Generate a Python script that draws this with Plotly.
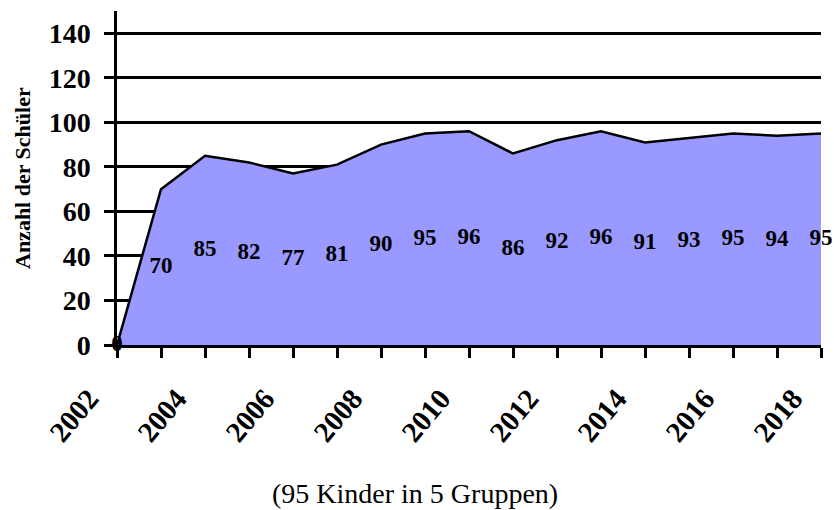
import plotly.graph_objects as go

years = list(range(2002, 2019))
pupils = [0, 70, 85, 82, 77, 81, 90, 95, 96, 86, 92, 96, 91, 93, 95, 94, 95]
label_years = [2002, 2004, 2006, 2008, 2010, 2012, 2014, 2016, 2018]
y_ticks = [0, 20, 40, 60, 80, 100, 120, 140]
y_title = "Anzahl der Schüler"
note = "(95 Kinder in 5 Gruppen)"

FONT = "Liberation Serif"
L, R, T, B = 117, 13, 11, 165
PW = 834 - L - R
PH = 510 - T - B

fig = go.Figure()
fig.add_trace(go.Scatter(
    x=years, y=pupils, mode="lines", fill="tozeroy",
    fillcolor="#9999FF", line=dict(color="black", width=2.5),
    hoverinfo="x+y", showlegend=False,
))
fig.add_trace(go.Scatter(
    x=years, y=[v / 2 for v in pupils], mode="text",
    text=[str(v) for v in pupils], textposition="middle center",
    textfont=dict(family=FONT, size=23, color="black", weight="bold"),
    showlegend=False, hoverinfo="skip", cliponaxis=False,
))

annotations = []
for yr in label_years:
    annotations.append(dict(
        text=str(yr), x=yr, xref="x", y=0, yref="paper",
        xanchor="right", yanchor="top", textangle=-50,
        xshift=-9, yshift=-35, showarrow=False,
        font=dict(family=FONT, size=29, color="black", weight="bold"),
    ))
annotations.append(dict(
    text=y_title, xref="paper", yref="paper",
    x=-(L - 22) / PW, y=0.5, textangle=-90,
    showarrow=False, xanchor="center", yanchor="middle",
    font=dict(family=FONT, size=22, color="black", weight="bold"),
))
annotations.append(dict(
    text=note, xref="paper", yref="paper",
    x=(415 - L) / PW, y=-(493 - (T + PH)) / PH,
    showarrow=False, xanchor="center", yanchor="middle",
    font=dict(family=FONT, size=28, color="black"),
))

fig.update_layout(
    width=834, height=510,
    margin=dict(l=L, r=R, t=T, b=B),
    plot_bgcolor="white", paper_bgcolor="white",
    font=dict(family=FONT, color="black"),
    annotations=annotations,
)
fig.update_xaxes(
    range=[2002, 2018], tickvals=years, showticklabels=False,
    ticks="outside", ticklen=10, tickwidth=2.5, tickcolor="black",
    showline=True, linecolor="black", linewidth=2.5, showgrid=False, zeroline=False,
    automargin=False,
)
fig.update_yaxes(
    range=[0, 150], tickvals=y_ticks,
    ticks="outside", ticklen=10, tickwidth=2.5, tickcolor="black",
    showline=True, linecolor="black", linewidth=2.5,
    showgrid=True, gridcolor="black", gridwidth=2.5, zeroline=False,
    tickfont=dict(family=FONT, size=28, color="black", weight="bold"),
    ticklabelstandoff=8, automargin=False,
)

fig.write_html("out.html", config={"displayModeBar": False},
               post_script="document.body.style.margin='0';")
